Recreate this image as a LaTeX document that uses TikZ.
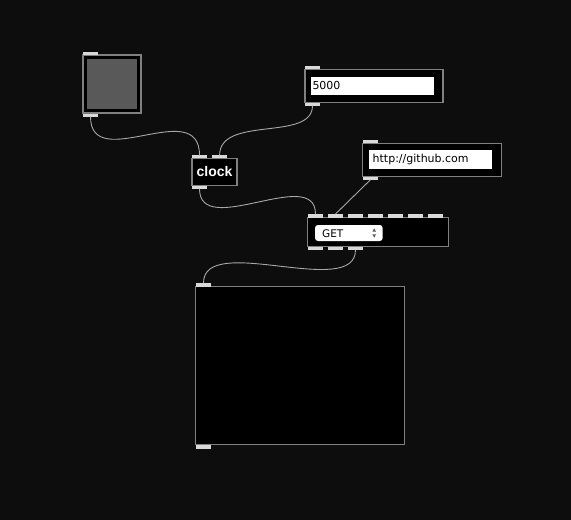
\documentclass[tikz,border=0pt]{standalone}
\usepackage{fontspec}
\setmainfont{DejaVu Sans}
\newfontfamily\clockfont{Liberation Sans}
\begin{document}
\begin{tikzpicture}[x=1pt,y=-1pt,
  objbox/.style={draw=boxgray,line width=1.5pt,fill=black},
  tab/.style={fill=tabgray,draw=none},
  cord/.style={draw=cordgray,line width=0.9pt},
  field/.style={fill=white,draw=none}]
\definecolor{bg}{HTML}{0D0D0D}
\definecolor{boxgray}{HTML}{808080}
\definecolor{tabgray}{HTML}{D9D9D9}
\definecolor{cordgray}{HTML}{A8A8A8}
\definecolor{togglegray}{HTML}{595959}
\useasboundingbox (0,0) rectangle (571,520);
\fill[bg] (0,0) rectangle (571,520);

% toggle
\path[objbox] (83,55) rectangle (141,113);
\fill[togglegray] (87,59) rectangle (137,109);
\fill[tab] (83,51.5) rectangle (98,54.5);
\fill[tab] (83,113.5) rectangle (98,116.5);
\coordinate (togout) at (90.5,116.5);

% clock
\node[objbox,minimum width=45pt,minimum height=27pt,inner sep=0pt,
  text=white,font=\clockfont\bfseries\fontsize{14}{14}\selectfont] (clock) at (214.5,171.8) {clock};
\fill[tab] (192,155.3) rectangle (207,158.3);
\fill[tab] (212.3,155.3) rectangle (227,158.3);
\fill[tab] (192,185.6) rectangle (207,188.7);
\coordinate (clkin1) at (199.5,155.3);
\coordinate (clkin2) at (219.6,155.3);
\coordinate (clkout) at (199.5,188.7);

% number box 5000
\path[objbox] (305,69.5) rectangle (443,102.3);
\fill[field] (311,76.7) rectangle (434,94.7);
\node[anchor=west,inner sep=0pt,font=\fontsize{11}{11}\selectfont] (numtxt) at (312.3,85.7) {5000};
\fill[tab] (305,66) rectangle (320,69.3);
\fill[tab] (305,102.5) rectangle (320,105.7);
\coordinate (numout) at (312.5,105.7);

% url box
\path[objbox] (362.7,143.5) rectangle (501.3,176.3);
\fill[field] (369,150) rectangle (492,168.7);
\node[anchor=west,inner sep=0pt,font=\fontsize{11}{11}\selectfont] (urltxt) at (372.5,159.3) {http://github.com};
\fill[tab] (363,140) rectangle (378,143.3);
\fill[tab] (363,176.5) rectangle (378,179.7);
\coordinate (urlout) at (370.5,179.7);

% GET object
\path[objbox] (307.7,217.7) rectangle (448.7,246.7);
\fill[white,rounded corners=3pt] (315,225) rectangle (382.7,241);
\node[anchor=west,inner sep=0pt,font=\fontsize{10.5}{10.5}\selectfont] (gettxt) at (322,233.2) {GET};
\fill[black!65] (372.4,231.6) -- (376,231.6) -- (374.2,228.4) -- cycle;
\fill[black!65] (372.4,234.4) -- (376,234.4) -- (374.2,237.6) -- cycle;
\foreach \i in {0,...,6} {
  \fill[tab] (308.3+20*\i,214) rectangle (323+20*\i,217.5);
}
\foreach \i in {0,1,2} {
  \fill[tab] (308.3+20*\i,246.9) rectangle (323+20*\i,249.9);
}
\coordinate (getin1) at (315.5,214);
\coordinate (getin2) at (335.5,214);
\coordinate (getout3) at (355.5,249.9);

% big box
\path[objbox] (195.7,286.7) rectangle (404.3,444.7);
\fill[tab] (196,283) rectangle (211,286.5);
\fill[tab] (196,445) rectangle (211,449);
\coordinate (bigin) at (203.5,283);

% patch cords
\draw[cord] (togout) .. controls (90.5,175) and (199.5,95) .. (clkin1);
\draw[cord] (numout) .. controls (312.5,142) and (219.6,115) .. (clkin2);
\draw[cord] (clkout) .. controls (199.5,240) and (315.5,165) .. (getin1);
\draw[cord] (urlout) -- (getin2);
\draw[cord] (getout3) .. controls (355.5,300) and (203.5,232) .. (bigin);
\end{tikzpicture}
\end{document}
